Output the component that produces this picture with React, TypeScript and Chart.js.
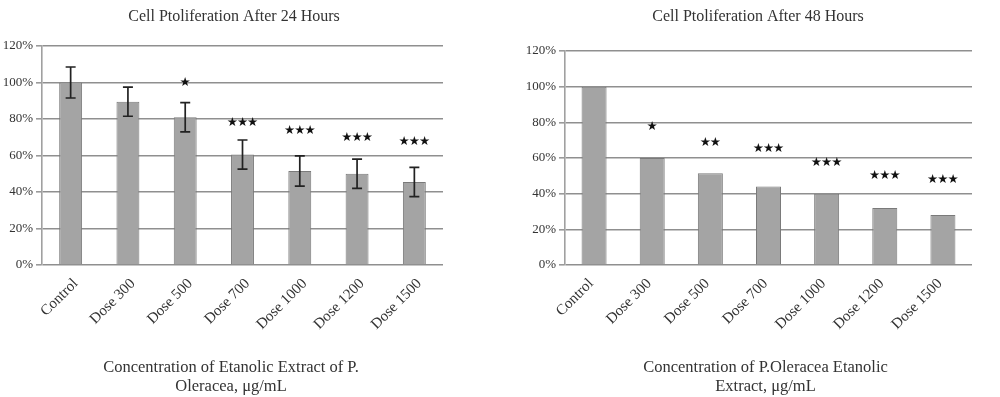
import React, { useEffect, useRef } from "react";
import { Chart, registerables } from "chart.js";

Chart.register(...registerables);

const categories = ["Control", "Dose 300", "Dose 500", "Dose 700", "Dose 1000", "Dose 1200", "Dose 1500"];
const yTicks = [0, 20, 40, 60, 80, 100, 120];

const prolif24 = [100, 89.5, 81, 60.5, 51.5, 50, 45.5];
const err24 = [8.5, 8, 8, 8, 8.3, 8, 8];
const stars24 = ["", "", "★", "★★★", "★★★", "★★★", "★★★"];
const starLevel24 = [null, null, 99.6, 77.7, 73.3, 70, 67.3];

const prolif48 = [100, 60, 51.5, 44, 40, 32, 28];
const stars48 = ["", "★", "★★", "★★★", "★★★", "★★★", "★★★"];
const starLevel48 = [null, 77.8, 68.5, 65.3, 57.3, 50, 48];

const title24 = "Cell Ptoliferation After 24 Hours";
const title48 = "Cell Ptoliferation After 48 Hours";
const xTitle24 = ["Concentration of Etanolic Extract of P.", "Oleracea, \u03bcg/mL"];
const xTitle48 = ["Concentration of P.Oleracea Etanolic", "Extract, \u03bcg/mL"];

const SERIF = "'Liberation Serif', 'Times New Roman', serif";

type PanelProps = {
  values: number[];
  errors: (number | null)[] | null;
  stars: string[];
  starLevels: (number | null)[];
  title: string;
  xTitle: string[];
  yWidth: number;
  padRight: number;
  padTop: number;
  barPct: number;
  titleX: number;
  xTitleX: number;
  labelShift: number;
};

function Panel(p: PanelProps) {
  const ref = useRef<HTMLCanvasElement | null>(null);
  useEffect(() => {
    if (!ref.current) return;
    const annot = {
      id: "annot",
      afterDatasetsDraw(chart: any) {
        const ctx = chart.ctx;
        const xs = chart.scales.x;
        const ys = chart.scales.y;
        ctx.save();
        if (p.errors) {
          ctx.strokeStyle = "#222";
          ctx.lineWidth = 1.7;
          p.values.forEach((v, i) => {
            const e = p.errors![i];
            if (e == null) return;
            const x = xs.getPixelForValue(i);
            const y1 = ys.getPixelForValue(v + e);
            const y2 = ys.getPixelForValue(v - e);
            ctx.beginPath();
            ctx.moveTo(x, y1);
            ctx.lineTo(x, y2);
            ctx.moveTo(x - 5, y1);
            ctx.lineTo(x + 5, y1);
            ctx.moveTo(x - 5, y2);
            ctx.lineTo(x + 5, y2);
            ctx.stroke();
          });
        }
        ctx.fillStyle = "#111";
        ctx.font = "12.5px 'DejaVu Sans', sans-serif";
        (ctx as any).letterSpacing = "-1px";
        ctx.textAlign = "center";
        ctx.textBaseline = "middle";
        p.stars.forEach((s, i) => {
          const lvl = p.starLevels[i];
          if (!s || lvl == null) return;
          ctx.fillText(s, xs.getPixelForValue(i) - 0.5, ys.getPixelForValue(lvl));
        });
        ctx.restore();
      },
      afterDraw(chart: any) {
        const ctx = chart.ctx;
        ctx.save();
        ctx.fillStyle = "#333";
        ctx.textAlign = "center";
        ctx.textBaseline = "middle";
        ctx.font = `16px ${SERIF}`;
        ctx.fillText(p.title, p.titleX, 17);
        ctx.font = `16.5px ${SERIF}`;
        p.xTitle.forEach((line, k) => {
          ctx.fillText(line, p.xTitleX, 368 + k * 19);
        });
        ctx.restore();
      },
    };
    const chart = new Chart(ref.current, {
      type: "bar",
      data: {
        labels: categories,
        datasets: [
          {
            data: p.values,
            backgroundColor: "#a4a4a4",
            borderColor: "#7a7a7a",
            borderWidth: 1,
            barPercentage: p.barPct,
            categoryPercentage: 1,
          },
        ],
      },
      options: {
        animation: false,
        responsive: false,
        maintainAspectRatio: false,
        layout: { padding: { left: 0, right: p.padRight, top: p.padTop, bottom: 0 } },
        plugins: { legend: { display: false }, tooltip: { enabled: false }, title: { display: false } },
        scales: {
          x: {
            offset: true,
            grid: { display: false },
            border: { display: false },
            ticks: {
              minRotation: 45,
              maxRotation: 45,
              color: "#333",
              font: { family: SERIF, size: 15 },
              padding: 2,
              labelOffset: p.labelShift,
            },
            afterFit: (s: any) => {
              s.height = 132;
            },
          },
          y: {
            min: 0,
            max: 120,
            afterBuildTicks: (s: any) => {
              s.ticks = yTicks.map((v) => ({ value: v }));
            },
            grid: { color: "#8f8f8f", lineWidth: 1.6, tickLength: 6, tickColor: "#9a9a9a" },
            border: { display: true, color: "#a0a0a0", width: 1.6 },
            ticks: {
              color: "#333",
              font: { family: SERIF, size: 13 },
              padding: 3,
              callback: (v: any) => `${v}%`,
            },
            afterFit: (s: any) => {
              s.width = p.yWidth;
            },
          },
        },
      },
      plugins: [annot],
    });
    return () => chart.destroy();
  }, []);
  return (
    <div style={{ width: 500, height: 397 }}>
      <canvas ref={ref} width={500} height={397} style={{ display: "block" }} />
    </div>
  );
}

export default function App() {
  return (
    <div style={{ position: "absolute", left: 0, top: 0, width: 1000, height: 397, display: "flex", background: "#fff" }}>
      <Panel
        values={prolif24}
        errors={err24}
        stars={stars24}
        starLevels={starLevel24}
        title={title24}
        xTitle={xTitle24}
        yWidth={42}
        padRight={57}
        padTop={46}
        barPct={0.4}
        titleX={234}
        xTitleX={231}
        labelShift={5}
      />
      <Panel
        values={prolif48}
        errors={null}
        stars={stars48}
        starLevels={starLevel48}
        title={title48}
        xTitle={xTitle48}
        yWidth={65}
        padRight={28}
        padTop={51}
        barPct={0.43}
        titleX={258}
        xTitleX={265.5}
        labelShift={-3}
      />
    </div>
  );
}
